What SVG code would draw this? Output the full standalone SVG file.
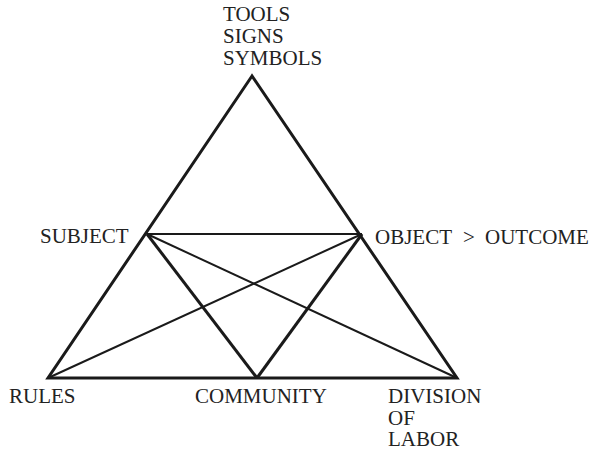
<svg xmlns="http://www.w3.org/2000/svg" width="600" height="450" viewBox="0 0 600 450">
<style>
.thick{stroke:#1a1a1a;stroke-width:3;fill:none;stroke-linejoin:miter}
.thin{stroke:#1a1a1a;stroke-width:2;fill:none}
</style>
<rect width="600" height="450" fill="#fff"/>
<g id="connectors">
<polygon class="thick" points="252,76 48,378 457,378"/>
<line class="thin" x1="147" y1="234" x2="362" y2="234"/>
<line class="thick" x1="147" y1="234" x2="257" y2="378"/>
<line class="thick" x1="257" y1="378" x2="362" y2="234"/>
<line class="thin" x1="147" y1="234" x2="457" y2="378"/>
<line class="thin" x1="48" y1="378" x2="362" y2="234"/>
</g>
<g id="tools"><text font-family="Liberation Serif" font-size="21" fill="#222"><tspan x="223" y="21">TOOLS</tspan><tspan x="223" y="43">SIGNS</tspan><tspan x="223" y="65">SYMBOLS</tspan></text></g>
<g id="subject"><text font-family="Liberation Serif" font-size="21" fill="#222" x="40" y="243">SUBJECT</text></g>
<g id="object"><text font-family="Liberation Serif" font-size="21" fill="#222" y="244"><tspan x="375">OBJECT</tspan><tspan x="463">&gt;</tspan><tspan x="485">OUTCOME</tspan></text></g>
<g id="rules"><text font-family="Liberation Serif" font-size="21" fill="#222" x="9" y="403">RULES</text></g>
<g id="community"><text font-family="Liberation Serif" font-size="21" fill="#222" x="195" y="403">COMMUNITY</text></g>
<g id="division"><text font-family="Liberation Serif" font-size="21" fill="#222"><tspan x="388" y="403">DIVISION</tspan><tspan x="388" y="425">OF</tspan><tspan x="388" y="446">LABOR</tspan></text></g>
</svg>
